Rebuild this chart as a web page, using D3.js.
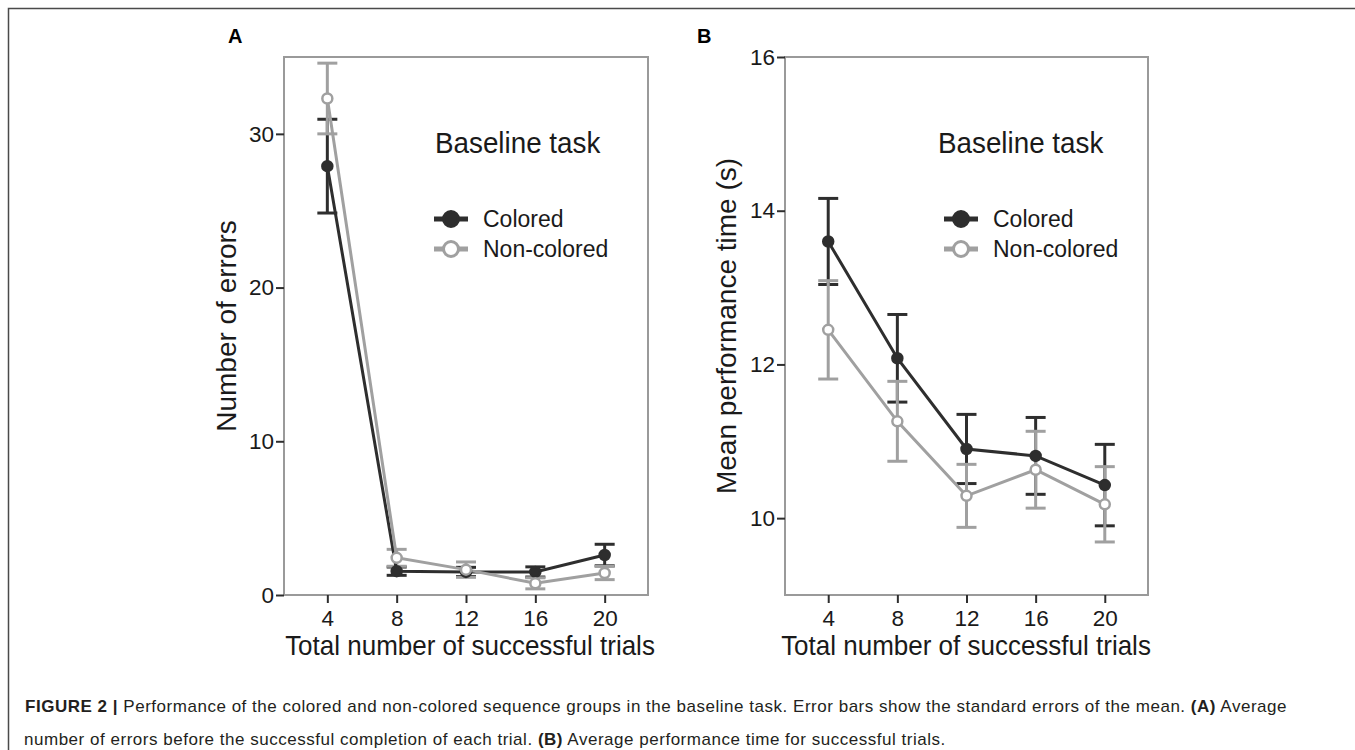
<!DOCTYPE html>
<html>
<head>
<meta charset="utf-8">
<script src="https://cdn.jsdelivr.net/npm/d3@7/dist/d3.min.js"></script>
<style>
  html, body { margin: 0; padding: 0; background: #fff; }
  svg { display: block; font-family: "Liberation Sans", Arial, Helvetica, sans-serif; }
</style>
</head>
<body>
<svg id="fig" width="1355" height="750"></svg>
<script>
// ---------------- DATA ----------------
const trials = [4, 8, 12, 16, 20];
const xTicks = [4, 8, 12, 16, 20];
const seriesNames = ["Colored", "Non-colored"];

// Panel A: number of errors (mean, SE)
const errorsColored      = [27.9, 1.55, 1.5, 1.5, 2.6];
const errorsColoredSE    = [3.05, 0.27, 0.3, 0.33, 0.7];
const errorsNonColored   = [32.3, 2.42, 1.65, 0.76, 1.43];
const errorsNonColoredSE = [2.3, 0.55, 0.5, 0.36, 0.43];
const errorsTicks = [0, 10, 20, 30];

// Panel B: mean performance time in seconds (mean, SE)
const timeColored      = [13.60, 12.08, 10.90, 10.81, 10.43];
const timeColoredSE    = [0.56, 0.57, 0.45, 0.50, 0.53];
const timeNonColored   = [12.45, 11.26, 10.29, 10.63, 10.18];
const timeNonColoredSE = [0.64, 0.52, 0.41, 0.50, 0.49];
const timeTicks = [10, 12, 14, 16];

const captionLine1Bold = "FIGURE 2 |";
const captionLine1 = " Performance of the colored and non-colored sequence groups in the baseline task. Error bars show the standard errors of the mean. ";
const captionLine1Bold2 = "(A)";
const captionLine1End = " Average";
const captionLine2a = "number of errors before the successful completion of each trial. ";
const captionLine2Bold = "(B)";
const captionLine2b = " Average performance time for successful trials.";

// ---------------- STYLE ----------------
const DARK = "#2e2e2e";
const GRAY = "#a0a0a0";
const BOX = "#9a9a9a";
const TEXT = "#1a1a1a";
const STRETCH = 1.08; // reference text is slightly taller than wide

const svg = d3.select("#fig");

// outer frame
svg.append("path")
  .attr("d", "M8.5,750 L8.5,8.5 L1355,8.5")
  .attr("fill", "none").attr("stroke", "#4a4a4a").attr("stroke-width", 1.5);

function stretchedText(parent, x, y, size) {
  return parent.append("text")
    .attr("transform", `translate(${x},${y}) scale(1,${STRETCH})`)
    .attr("font-size", size).attr("fill", TEXT);
}

function panel(cfg) {
  const g = svg.append("g");
  const x = d3.scaleLinear().domain([1.5, 22.5]).range([cfg.left, cfg.right]);
  const y = d3.scaleLinear().domain(cfg.yDomain).range([cfg.bottom, cfg.top]);

  // panel letter
  g.append("text").attr("x", cfg.letterX).attr("y", 43)
    .attr("font-size", 20).attr("font-weight", "bold").attr("fill", "#000")
    .text(cfg.letter);

  // box
  g.append("rect")
    .attr("x", cfg.left).attr("y", cfg.top)
    .attr("width", cfg.right - cfg.left).attr("height", cfg.bottom - cfg.top)
    .attr("fill", "none").attr("stroke", BOX).attr("stroke-width", 2);

  // axes
  const xAxis = d3.axisBottom(x).tickValues(xTicks).tickSize(8).tickPadding(6).tickFormat(d3.format("d"));
  const gx = g.append("g").attr("transform", `translate(0,${cfg.bottom})`).call(xAxis);
  gx.select(".domain").remove();
  gx.selectAll(".tick line").attr("stroke", DARK).attr("stroke-width", 2);
  gx.selectAll(".tick text").attr("font-size", 22.5).attr("fill", TEXT)
    .attr("font-family", "Liberation Sans, Arial, sans-serif").attr("dy", "0.76em");

  const yAxis = d3.axisLeft(y).tickValues(cfg.yTicks).tickSize(8).tickPadding(2).tickFormat(d3.format("d"));
  const gy = g.append("g").attr("transform", `translate(${cfg.left},0)`).call(yAxis);
  gy.select(".domain").remove();
  gy.selectAll(".tick line").attr("stroke", DARK).attr("stroke-width", 2);
  gy.selectAll(".tick text").attr("font-size", 22.5).attr("fill", TEXT)
    .attr("font-family", "Liberation Sans, Arial, sans-serif");

  // axis titles
  stretchedText(g, cfg.xTitleX, 655, 26)
    .attr("text-anchor", "middle")
    .text("Total number of successful trials");
  g.append("text")
    .attr("transform", `translate(${cfg.yTitleX},${(cfg.top + cfg.bottom) / 2}) rotate(-90)`)
    .attr("text-anchor", "middle").attr("font-size", 28).attr("fill", TEXT)
    .text(cfg.yTitle);

  const series = [
    { name: seriesNames[0], m: cfg.colored, se: cfg.coloredSE, color: DARK, fill: DARK },
    { name: seriesNames[1], m: cfg.non, se: cfg.nonSE, color: GRAY, fill: "#fff" }
  ];
  const cap = 10;

  // error bars
  series.forEach(s => {
    const eg = g.append("g");
    trials.forEach((t, i) => {
      const cx = x(t), y1 = y(s.m[i] + s.se[i]), y0 = y(s.m[i] - s.se[i]);
      eg.append("line").attr("x1", cx).attr("x2", cx).attr("y1", y1).attr("y2", y0)
        .attr("stroke", s.color).attr("stroke-width", 3);
      [y1, y0].forEach(yy => eg.append("line")
        .attr("x1", cx - cap).attr("x2", cx + cap).attr("y1", yy).attr("y2", yy)
        .attr("stroke", s.color).attr("stroke-width", 3));
    });
  });

  // lines
  const line = d3.line().x((d, i) => x(trials[i])).y(d => y(d));
  series.forEach(s => {
    g.append("path").attr("d", line(s.m))
      .attr("fill", "none").attr("stroke", s.color).attr("stroke-width", 3);
  });

  // points
  series.forEach(s => {
    g.selectAll(null).data(s.m).enter().append("circle")
      .attr("cx", (d, i) => x(trials[i])).attr("cy", d => y(d))
      .attr("r", 5).attr("fill", s.fill).attr("stroke", s.color).attr("stroke-width", 2.5);
  });

  // legend title
  stretchedText(g, cfg.legendTitleX, 153, 27.8).text("Baseline task");

  // legend
  series.forEach((s, i) => {
    const cy = 219 + i * 30;
    g.append("line").attr("x1", cfg.legendX - 17).attr("x2", cfg.legendX + 17)
      .attr("y1", cy).attr("y2", cy).attr("stroke", s.color).attr("stroke-width", 5);
    g.append("circle").attr("cx", cfg.legendX).attr("cy", cy).attr("r", 7.5)
      .attr("fill", s.fill).attr("stroke", s.color).attr("stroke-width", 3);
    stretchedText(g, cfg.legendX + 32, cy + 7.5, 23).text(s.name);
  });
}

panel({
  letter: "A", letterX: 228,
  left: 284, right: 648, top: 57, bottom: 595, xTitleX: 470,
  yDomain: [0, 35], yTicks: errorsTicks, yTitle: "Number of errors", yTitleX: 236,
  colored: errorsColored, coloredSE: errorsColoredSE,
  non: errorsNonColored, nonSE: errorsNonColoredSE,
  legendTitleX: 435, legendX: 451
});

panel({
  letter: "B", letterX: 697,
  left: 785, right: 1148, top: 57, bottom: 595, xTitleX: 966,
  yDomain: [9, 16], yTicks: timeTicks, yTitle: "Mean performance time (s)", yTitleX: 736,
  colored: timeColored, coloredSE: timeColoredSE,
  non: timeNonColored, nonSE: timeNonColoredSE,
  legendTitleX: 938, legendX: 961
});

// caption
const cap = svg.append("g").attr("font-size", 15.5).attr("fill", "#231f20");
const t1 = cap.append("text").attr("x", 25).attr("y", 712);
t1.append("tspan").attr("font-weight", "bold").text(captionLine1Bold);
t1.append("tspan").text(captionLine1);
t1.append("tspan").attr("font-weight", "bold").text(captionLine1Bold2);
t1.append("tspan").text(captionLine1End);
const t2 = cap.append("text").attr("x", 24).attr("y", 745);
t2.append("tspan").text(captionLine2a);
t2.append("tspan").attr("font-weight", "bold").text(captionLine2Bold);
t2.append("tspan").text(captionLine2b);

// fit caption line 1 width to reference (ends near x=1287)
const w1 = t1.node().getComputedTextLength();
const target = 1287 - 25;
const fs = 15.5 * target / w1;
cap.attr("font-size", Math.min(17, Math.max(14, fs)));
const w1b = t1.node().getComputedTextLength();
if (Math.abs(w1b - target) > 2) {
  const chars = (captionLine1Bold + captionLine1 + captionLine1Bold2 + captionLine1End).length;
  const ls = (target - w1b) / chars;
  cap.attr("letter-spacing", ls.toFixed(3));
}
</script>
</body>
</html>
